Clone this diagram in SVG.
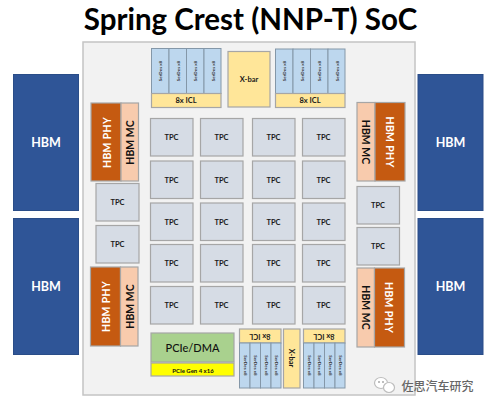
<svg xmlns="http://www.w3.org/2000/svg" width="488" height="407" viewBox="0 0 488 407">
<style>
text{font-family:Lato,"Open Sans","Liberation Sans",sans-serif;text-anchor:middle;dominant-baseline:central;font-weight:700}
.box{stroke:#a6a6a6;stroke-width:1.2}
.tpc{fill:#d6dce5}.tpc+text{font-size:7.500px;fill:#1a1a1a}
.hbm{fill:#2f5597;stroke:#2a4d88;stroke-width:1}.w{fill:#fff}
.hbm+text{font-size:12.500px}
.phy{fill:#c55a11}.mc{fill:#f8cbad}
.phy+text{font-size:10.500px;letter-spacing:.3px}.mc+text{font-size:10.500px;fill:#111}
.ser{fill:#bdd7ee;stroke:#8497a8;stroke-width:1}.yel{fill:#ffe699}
.s{font-size:4.500px;fill:#333}
.i{font-size:7.500px;fill:#1a1a1a}
</style>
<rect width="488" height="407" fill="#fff"/>
<text x="250.500" y="18" style="font-size:29.500px" fill="#000">Spring Crest (NNP-T) SoC</text>
<g id="die"><rect x="83" y="42" width="332" height="353" fill="#f2f2f2" stroke="#c4c4c4" stroke-width="1.500"/></g>
<g id="hbm-1"><rect class="hbm" x="13.500" y="74.500" width="65" height="136"/><text class="w" x="46" y="142">HBM</text></g>
<g id="hbm-2"><rect class="hbm" x="13.500" y="218.500" width="65" height="136"/><text class="w" x="46" y="286">HBM</text></g>
<g id="hbm-3"><rect class="hbm" x="418" y="74.500" width="65" height="136"/><text class="w" x="450.500" y="142">HBM</text></g>
<g id="hbm-4"><rect class="hbm" x="418" y="218.500" width="65" height="136"/><text class="w" x="450.500" y="286">HBM</text></g>

<g id="icl-top-left">
<rect class="ser" x="151.500" y="48.500" width="17.500" height="45"/><rect class="ser" x="169" y="48.500" width="17.500" height="45"/><rect class="ser" x="186.500" y="48.500" width="17.500" height="45"/><rect class="ser" x="204" y="48.500" width="17" height="45"/>
<text class="s" transform="translate(160.500 71) rotate(-90)">SerDes x8</text><text class="s" transform="translate(178 71) rotate(-90)">SerDes x8</text><text class="s" transform="translate(195.500 71) rotate(-90)">SerDes x8</text><text class="s" transform="translate(213 71) rotate(-90)">SerDes x8</text>
<rect class="box yel" x="151.500" y="93.500" width="69.500" height="14"/><text class="i" x="186" y="100.500">8x ICL</text></g>
<g id="xbar-top"><rect class="box yel" x="228" y="51.500" width="42" height="55.500"/><text class="i" x="249" y="79">X-bar</text></g>
<g id="icl-top-right">
<rect class="ser" x="275.500" y="49" width="17.500" height="44.500"/><rect class="ser" x="293" y="49" width="17.500" height="44.500"/><rect class="ser" x="310.500" y="49" width="17.500" height="44.500"/><rect class="ser" x="328" y="49" width="17" height="44.500"/>
<text class="s" transform="translate(284.500 71) rotate(-90)">SerDes x8</text><text class="s" transform="translate(302 71) rotate(-90)">SerDes x8</text><text class="s" transform="translate(319.500 71) rotate(-90)">SerDes x8</text><text class="s" transform="translate(337 71) rotate(-90)">SerDes x8</text>
<rect class="box yel" x="275.500" y="93.500" width="69.500" height="14"/><text class="i" x="310" y="100.500">8x ICL</text></g>

<g id="hbm-phy-tl"><rect class="box phy" x="91" y="103" width="30" height="78"/><text class="w" transform="translate(106.500 142.500) rotate(-90)">HBM PHY</text></g>
<g id="hbm-mc-tl"><rect class="box mc" x="121" y="103" width="17.500" height="78"/><text transform="translate(130 142.500) rotate(-90)">HBM MC</text></g>
<g id="hbm-phy-bl"><rect class="box phy" x="90.500" y="267" width="30" height="79"/><text class="w" transform="translate(106 306.500) rotate(-90)">HBM PHY</text></g>
<g id="hbm-mc-bl"><rect class="box mc" x="120.500" y="267" width="17.500" height="79"/><text transform="translate(129.500 306.500) rotate(-90)">HBM MC</text></g>
<g id="hbm-mc-tr"><rect class="box mc" x="357" y="102.500" width="18" height="78.500"/><text transform="translate(366 142) rotate(90)">HBM MC</text></g>
<g id="hbm-phy-tr"><rect class="box phy" x="375" y="102.500" width="30" height="78.500"/><text class="w" transform="translate(389.500 142) rotate(90)">HBM PHY</text></g>
<g id="hbm-mc-br"><rect class="box mc" x="357" y="268" width="17.500" height="79"/><text transform="translate(365.500 307.500) rotate(90)">HBM MC</text></g>
<g id="hbm-phy-br"><rect class="box phy" x="374.500" y="268" width="30" height="79"/><text class="w" transform="translate(389 307.500) rotate(90)">HBM PHY</text></g>

<g id="tpc-side-1"><rect class="box tpc" x="96" y="183.500" width="43" height="37.500"/><text x="117.500" y="202.500">TPC</text></g>
<g id="tpc-side-2"><rect class="box tpc" x="96" y="225.500" width="43" height="37.500"/><text x="117.500" y="244.500">TPC</text></g>
<g id="tpc-side-3"><rect class="box tpc" x="357" y="186.500" width="42.500" height="37.500"/><text x="378" y="205">TPC</text></g>
<g id="tpc-side-4"><rect class="box tpc" x="357" y="227.500" width="42.500" height="37.500"/><text x="378" y="246">TPC</text></g>

<g id="tpc-r1c1"><rect class="box tpc" x="150.500" y="118.500" width="42.500" height="37.500"/><text x="171.500" y="137.500">TPC</text></g>
<g id="tpc-r1c2"><rect class="box tpc" x="200.500" y="118.500" width="42.500" height="37.500"/><text x="221.500" y="137.500">TPC</text></g>
<g id="tpc-r1c3"><rect class="box tpc" x="252.500" y="118.500" width="42.500" height="37.500"/><text x="273.500" y="137.500">TPC</text></g>
<g id="tpc-r1c4"><rect class="box tpc" x="302.500" y="118.500" width="42.500" height="37.500"/><text x="323.500" y="137.500">TPC</text></g>
<g id="tpc-r2c1"><rect class="box tpc" x="150.500" y="161" width="42.500" height="37.500"/><text x="171.500" y="180">TPC</text></g>
<g id="tpc-r2c2"><rect class="box tpc" x="200.500" y="161" width="42.500" height="37.500"/><text x="221.500" y="180">TPC</text></g>
<g id="tpc-r2c3"><rect class="box tpc" x="252.500" y="161" width="42.500" height="37.500"/><text x="273.500" y="180">TPC</text></g>
<g id="tpc-r2c4"><rect class="box tpc" x="302.500" y="161" width="42.500" height="37.500"/><text x="323.500" y="180">TPC</text></g>
<g id="tpc-r3c1"><rect class="box tpc" x="150.500" y="203" width="42.500" height="37.500"/><text x="171.500" y="222">TPC</text></g>
<g id="tpc-r3c2"><rect class="box tpc" x="200.500" y="203" width="42.500" height="37.500"/><text x="221.500" y="222">TPC</text></g>
<g id="tpc-r3c3"><rect class="box tpc" x="252.500" y="203" width="42.500" height="37.500"/><text x="273.500" y="222">TPC</text></g>
<g id="tpc-r3c4"><rect class="box tpc" x="302.500" y="203" width="42.500" height="37.500"/><text x="323.500" y="222">TPC</text></g>
<g id="tpc-r4c1"><rect class="box tpc" x="150.500" y="244.500" width="42.500" height="37.500"/><text x="171.500" y="263.500">TPC</text></g>
<g id="tpc-r4c2"><rect class="box tpc" x="200.500" y="244.500" width="42.500" height="37.500"/><text x="221.500" y="263.500">TPC</text></g>
<g id="tpc-r4c3"><rect class="box tpc" x="252.500" y="244.500" width="42.500" height="37.500"/><text x="273.500" y="263.500">TPC</text></g>
<g id="tpc-r4c4"><rect class="box tpc" x="302.500" y="244.500" width="42.500" height="37.500"/><text x="323.500" y="263.500">TPC</text></g>
<g id="tpc-r5c1"><rect class="box tpc" x="150.500" y="286.500" width="42.500" height="37.500"/><text x="171.500" y="305">TPC</text></g>
<g id="tpc-r5c2"><rect class="box tpc" x="200.500" y="286.500" width="42.500" height="37.500"/><text x="221.500" y="305">TPC</text></g>
<g id="tpc-r5c3"><rect class="box tpc" x="252.500" y="286.500" width="42.500" height="37.500"/><text x="273.500" y="305">TPC</text></g>
<g id="tpc-r5c4"><rect class="box tpc" x="302.500" y="286.500" width="42.500" height="37.500"/><text x="323.500" y="305">TPC</text></g>

<g id="pcie-dma"><rect class="box" x="151" y="333" width="83" height="29" fill="#a9d18e"/><text x="192.500" y="347.500" style="font-size:11px;font-weight:500" fill="#111">PCIe/DMA</text></g>
<g id="pcie-gen"><rect class="box" x="151" y="363" width="83" height="13" fill="#ffff00"/><text x="193" y="370" style="font-size:6px" fill="#111">PCIe Gen 4 x16</text></g>

<g id="icl-bottom-left">
<rect class="box yel" x="239.500" y="329" width="41.500" height="14"/><text class="i" transform="translate(260 336) rotate(180)">8x ICL</text>
<rect class="ser" x="239.500" y="343" width="10.500" height="45"/><rect class="ser" x="250" y="343" width="10.500" height="45"/><rect class="ser" x="260.500" y="343" width="10.500" height="45"/><rect class="ser" x="271" y="343" width="10" height="45"/>
<text class="s" transform="translate(245 365.500) rotate(90)">SerDes x8</text><text class="s" transform="translate(255.500 365.500) rotate(90)">SerDes x8</text><text class="s" transform="translate(266 365.500) rotate(90)">SerDes x8</text><text class="s" transform="translate(276 365.500) rotate(90)">SerDes x8</text></g>
<g id="xbar-bottom"><rect class="box yel" x="283.500" y="329" width="16.500" height="59"/><text class="i" transform="translate(291.700 358) rotate(90)">X-bar</text></g>
<g id="icl-bottom-right">
<rect class="box yel" x="303.500" y="329" width="41.500" height="14"/><text class="i" transform="translate(324 336) rotate(180)">8x ICL</text>
<rect class="ser" x="303.500" y="343" width="10.500" height="45"/><rect class="ser" x="314" y="343" width="10.500" height="45"/><rect class="ser" x="324.500" y="343" width="10.500" height="45"/><rect class="ser" x="335" y="343" width="10" height="45"/>
<text class="s" transform="translate(309 365.500) rotate(90)">SerDes x8</text><text class="s" transform="translate(319.500 365.500) rotate(90)">SerDes x8</text><text class="s" transform="translate(330 365.500) rotate(90)">SerDes x8</text><text class="s" transform="translate(340 365.500) rotate(90)">SerDes x8</text></g>

<g id="connectors"/>
<g id="watermark">
<ellipse cx="381" cy="383" rx="6.500" ry="5.500" fill="#fff" stroke="#bdbdbd" stroke-width="1.200"/>
<ellipse cx="389" cy="387.500" rx="5.500" ry="5" fill="#fff" stroke="#bdbdbd" stroke-width="1.200"/>
<circle cx="379" cy="382" r="1" fill="#aaa"/><circle cx="383" cy="382" r="1" fill="#aaa"/>
<text x="437.500" y="385" style="font-size:12px;font-family:'Noto Sans CJK SC',sans-serif;font-weight:500" fill="#666">佐思汽车研究</text>
</g>
</svg>
